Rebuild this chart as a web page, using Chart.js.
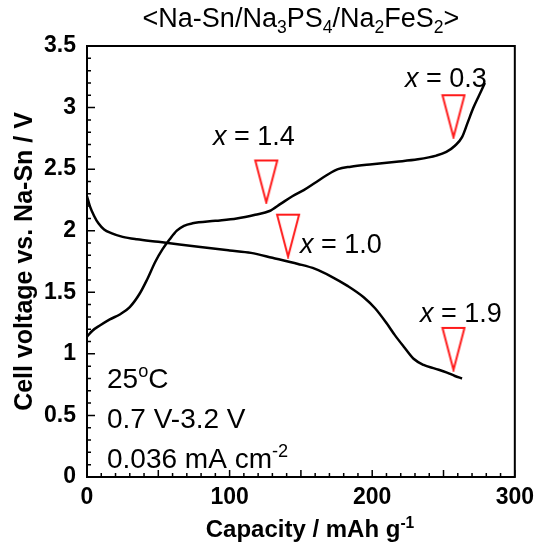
<!DOCTYPE html>
<html>
<head>
<meta charset="utf-8">
<script src="https://cdn.jsdelivr.net/npm/chart.js@4.4.1/dist/chart.umd.min.js"></script>
<style>
  html, body { margin: 0; padding: 0; background: #fff; }
  canvas { display: block; }
</style>
</head>
<body>
<canvas id="chart" width="541" height="545"></canvas>
<script>
// ── Data ───────────────────────────────────────────────────────
const chargeCap = [0, 4, 9, 16, 23, 30, 37, 42, 48, 53, 58, 63, 68, 74, 90, 105, 118, 128, 136, 144, 152, 160, 168, 176, 185, 200, 217, 232, 245, 252, 258, 263, 267, 271, 275, 279];
const chargeV   = [1.14, 1.19, 1.23, 1.28, 1.32, 1.38, 1.49, 1.60, 1.75, 1.85, 1.93, 2.00, 2.04, 2.06, 2.08, 2.10, 2.13, 2.16, 2.22, 2.28, 2.33, 2.39, 2.45, 2.50, 2.52, 2.54, 2.56, 2.58, 2.61, 2.64, 2.69, 2.76, 2.88, 3.00, 3.10, 3.20];

const dischargeCap = [0, 2, 5, 8, 12, 17, 25, 35, 50, 78, 100, 115, 130, 148, 160, 171, 183, 194, 202, 210, 216, 222, 229, 236, 244, 252, 258, 263];
const dischargeV   = [2.28, 2.20, 2.12, 2.06, 2.01, 1.98, 1.95, 1.93, 1.91, 1.87, 1.84, 1.82, 1.78, 1.73, 1.69, 1.63, 1.55, 1.46, 1.37, 1.25, 1.15, 1.06, 0.96, 0.91, 0.88, 0.85, 0.82, 0.80];

// composition markers (open red triangles) and their x values
const markerCap = [257, 125.7, 141, 257];
const markerV   = [2.93, 2.40, 1.96, 1.04];
const markerX   = ["0.3", "1.4", "1.0", "1.9"];

const xTicks = [0, 100, 200, 300];
const yTicks = [0, 0.5, 1, 1.5, 2, 2.5, 3, 3.5];

const conditions = [
  [{ t: "25" }, { t: "o", s: "sup" }, { t: "C" }],
  [{ t: "0.7 V-3.2 V" }],
  [{ t: "0.036 mA cm" }, { t: "-2", s: "sup" }],
];

const FONT = "'Liberation Sans', Arial, sans-serif";

// ── Helpers ────────────────────────────────────────────────────
const toXY = (xs, ys) => xs.map((x, i) => ({ x, y: ys[i] }));

// text with sub/superscripts, drawn left to right from (x, y) baseline
function richWidth(ctx, parts, size, weight) {
  let w = 0;
  parts.forEach((p) => {
    const sz = p.s ? size * 0.65 : size;
    ctx.font = `${p.i ? "italic " : ""}${weight} ${sz}px ${FONT}`;
    w += ctx.measureText(p.t).width;
  });
  return w;
}
function drawRich(ctx, parts, x, y, size, weight = "normal", align = "left") {
  ctx.save();
  ctx.textBaseline = "alphabetic";
  ctx.textAlign = "left";
  if (align === "center") x -= richWidth(ctx, parts, size, weight) / 2;
  parts.forEach((p) => {
    const sz = p.s ? size * 0.65 : size;
    const dy = p.s === "sub" ? size * 0.22 : p.s === "sup" ? -size * 0.38 : 0;
    ctx.font = `${p.i ? "italic " : ""}${weight} ${sz}px ${FONT}`;
    ctx.fillText(p.t, x, y + dy);
    x += ctx.measureText(p.t).width;
  });
  ctx.restore();
}

// open downward triangle used as point image
const tri = document.createElement("canvas");
tri.width = 26; tri.height = 46;
(() => {
  const c = tri.getContext("2d");
  c.strokeStyle = "#ff1a1a";
  c.lineWidth = 2;
  c.lineJoin = "miter";
  c.beginPath();
  c.moveTo(2, 2); c.lineTo(24, 2); c.lineTo(13, 44); c.closePath();
  c.stroke();
})();

// ── Plugins ────────────────────────────────────────────────────
const frameAndTicks = {
  id: "frameAndTicks",
  afterDatasetsDraw(chart) {
    const { ctx, chartArea: a, scales: { x, y } } = chart;
    ctx.save();
    ctx.strokeStyle = "#000";
    ctx.lineWidth = 1.5;
    ctx.beginPath();
    for (let v = 0; v <= 300; v += 10) {
      const px = x.getPixelForValue(v);
      const len = v % 50 === 0 ? 7 : 4;
      ctx.moveTo(px, a.bottom); ctx.lineTo(px, a.bottom - len);
    }
    for (let k = 0; k <= 35; k++) {
      const py = y.getPixelForValue(k / 10);
      const len = k % 5 === 0 ? 8 : 4;
      ctx.moveTo(a.left, py); ctx.lineTo(a.left + len, py);
    }
    ctx.stroke();
    ctx.lineWidth = 2;
    ctx.strokeRect(a.left, a.top, a.right - a.left, a.bottom - a.top);
    ctx.restore();
  },
};

const texts = {
  id: "texts",
  afterDraw(chart) {
    const { ctx, chartArea: a } = chart;
    ctx.save();
    ctx.fillStyle = "#000";

    drawRich(ctx, [
      { t: "<Na-Sn/Na" }, { t: "3", s: "sub" }, { t: "PS" }, { t: "4", s: "sub" },
      { t: "/Na" }, { t: "2", s: "sub" }, { t: "FeS" }, { t: "2", s: "sub" }, { t: ">" },
    ], (a.left + a.right) / 2, 27, 27, "normal", "center");

    // composition labels
    const labelAt = [[405, 87], [213, 145], [300, 253], [420, 322]];
    markerX.forEach((v, i) => {
      drawRich(ctx, [{ t: "x", i: true }, { t: " = " + v }], labelAt[i][0], labelAt[i][1], 27);
    });

    // test conditions
    conditions.forEach((parts, i) => drawRich(ctx, parts, 107, 388 + i * 40, 28));

    // axis titles
    drawRich(ctx, [{ t: "Capacity / mAh g" }, { t: "-1", s: "sup" }], 310, 537, 24, "bold", "center");
    ctx.translate(32, (a.top + a.bottom) / 2);
    ctx.rotate(-Math.PI / 2);
    drawRich(ctx, [{ t: "Cell voltage vs. Na-Sn / V" }], 0, 0, 25, "bold", "center");
    ctx.restore();
  },
};

// ── Chart ──────────────────────────────────────────────────────
new Chart(document.getElementById("chart"), {
  type: "line",
  data: {
    datasets: [
      {
        label: "Charge",
        data: toXY(chargeCap, chargeV),
        borderColor: "#000",
        borderWidth: 2.5,
        pointRadius: 0,
        cubicInterpolationMode: "monotone",
      },
      {
        label: "Discharge",
        data: toXY(dischargeCap, dischargeV),
        borderColor: "#000",
        borderWidth: 2.5,
        pointRadius: 0,
        cubicInterpolationMode: "monotone",
      },
      {
        label: "x",
        type: "scatter",
        data: toXY(markerCap, markerV),
        pointStyle: tri,
        showLine: false,
      },
    ],
  },
  options: {
    responsive: false,
    animation: false,
    layout: { padding: { top: 46, right: 23, left: 0, bottom: 0 } },
    plugins: { legend: { display: false }, tooltip: { enabled: false } },
    scales: {
      x: {
        type: "linear",
        min: 0, max: 300,
        afterFit: (s) => { s.height = 68; },
        afterBuildTicks: (s) => { s.ticks = xTicks.map((value) => ({ value })); },
        grid: { display: false, drawTicks: false },
        border: { display: false },
        ticks: { padding: 7, color: "#000", font: { family: FONT, size: 23, weight: "bold" } },
      },
      y: {
        type: "linear",
        min: 0, max: 3.5,
        afterFit: (s) => { s.width = 87; },
        afterBuildTicks: (s) => { s.ticks = yTicks.map((value) => ({ value })); },
        grid: { display: false, drawTicks: false },
        border: { display: false },
        ticks: { padding: 11, color: "#000", font: { family: FONT, size: 23, weight: "bold" }, callback: (v) => String(v) },
      },
    },
  },
  plugins: [frameAndTicks, texts],
});
</script>
</body>
</html>
